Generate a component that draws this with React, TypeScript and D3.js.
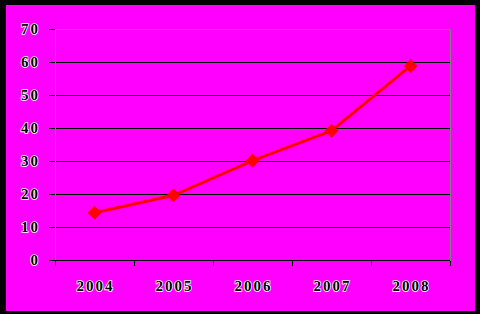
import React from "react";
import * as d3 from "d3";

const categories = ["2004", "2005", "2006", "2007", "2008"];
const values = [14.3, 19.6, 30.1, 39.2, 58.8];
const yTicks = [0, 10, 20, 30, 40, 50, 60, 70];

export default function App() {
  const W = 480, H = 314;
  const left = 55, right = 450, top = 29, bottom = 260;
  const x = d3.scaleBand<string>().domain(categories).range([left, right]);
  const y = d3.scaleLinear().domain([0, 70]).range([bottom, top]);
  const py = (v: number) => Math.round(y(v)) + 0.5;
  const px = (v: number) => Math.round(v) + 0.5;
  const line = d3
    .line<number>()
    .x((_, i) => (x(categories[i]) as number) + x.bandwidth() / 2)
    .y((d) => y(d));
  const font = "'Liberation Serif', 'Times New Roman', serif";
  const xEdges = [...categories.map((c) => x(c) as number), right];
  const textStyle = {
    fontFamily: font,
    fontWeight: "bold" as const,
    fontSize: 15,
    fill: "#000",
    stroke: "#fff",
    strokeWidth: 1.6,
    paintOrder: "stroke" as const,
    letterSpacing: 2,
  };
  return (
    <svg width={W} height={H} style={{ position: "absolute", left: 0, top: 0 }}>
      <rect x={0} y={0} width={W} height={H} fill="#000" />
      <rect x={6} y={5} width={469} height={306} fill="#ff00ff" />
      <g shapeRendering="crispEdges">
        {yTicks.slice(1, -1).map((t) => (
          <line key={t} x1={left} x2={right} y1={py(t)} y2={py(t)} stroke="#000" strokeWidth={1} />
        ))}
        <line x1={left} x2={right} y1={py(70)} y2={py(70)} stroke="#808080" strokeWidth={1} />
        <line x1={px(right)} x2={px(right)} y1={py(70)} y2={py(0)} stroke="#808080" strokeWidth={1} />
        <line x1={px(left)} x2={px(left)} y1={py(70)} y2={py(0)} stroke="#808080" strokeWidth={1} />
        <line x1={left} x2={right} y1={py(0)} y2={py(0)} stroke="#000" strokeWidth={1} />
        {yTicks.map((t) => (
          <line key={t} x1={left - 6} x2={left} y1={py(t)} y2={py(t)} stroke="#000" />
        ))}
        {xEdges.map((xe, i) => (
          <line key={i} x1={px(xe)} x2={px(xe)} y1={py(0)} y2={py(0) + 5} stroke="#000" />
        ))}
      </g>
      {yTicks.map((t) => (
        <text key={t} x={40} y={y(t)} dy="0.35em" textAnchor="end" style={textStyle}>
          {t}
        </text>
      ))}
      {categories.map((c) => (
        <text
          key={c}
          x={(x(c) as number) + x.bandwidth() / 2 + 1}
          y={286}
          dy="0.35em"
          textAnchor="middle"
          style={textStyle}
        >
          {c}
        </text>
      ))}
      <path d={line(values) || ""} fill="none" stroke="#ff0000" strokeWidth={3} />
      {values.map((v, i) => {
        const cx = (x(categories[i]) as number) + x.bandwidth() / 2;
        const cy = y(v);
        const s = 7;
        return (
          <path
            key={i}
            d={`M${cx - s},${cy}L${cx},${cy - s}L${cx + s},${cy}L${cx},${cy + s}Z`}
            fill="#ff0000"
          />
        );
      })}
    </svg>
  );
}
